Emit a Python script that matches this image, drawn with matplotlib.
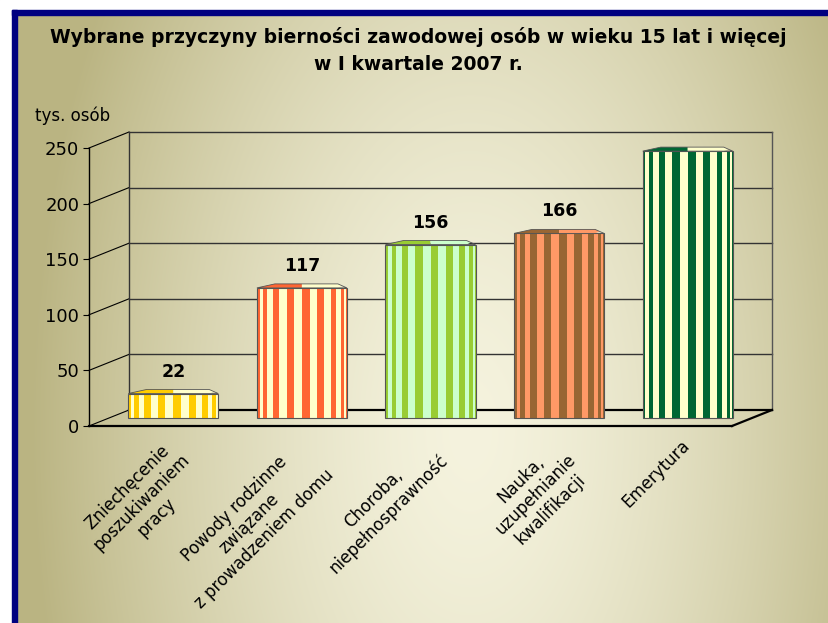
import numpy as np
import matplotlib.pyplot as plt
from matplotlib.patches import Rectangle, Polygon

# data
categories = ["Zniechęcenie\nposzukiwaniem\npracy",
              "Powody rodzinne\nzwiązane\nz prowadzeniem domu",
              "Choroba,\nniepełnosprawność",
              "Nauka,\nuzupełnianie\nkwalifikacji",
              "Emerytura"]
values = [22, 117, 156, 166, 240]
yticks = [0, 50, 100, 150, 200, 250]
dark_colors = ['#FFCC00', '#FF6633', '#99CC33', '#996633', '#006633']
light_colors = ['#FFFFCC', '#FFFFCC', '#CCFFCC', '#FF9966', '#FFFFCC']

plt.rcParams['font.family'] = ['DejaVu Sans']

W, H = 829, 623
fig = plt.figure(figsize=(W / 100, H / 100), dpi=100)

# background gradient + frame
bg = fig.add_axes([0, 0, 1, 1])
bg.set_xlim(0, W)
bg.set_ylim(H, 0)
bg.axis('off')
yy, xx = np.mgrid[0:H, 0:W]
d = np.clip(np.sqrt(((xx - 470) / 440) ** 2 + ((yy - 430) / 800) ** 2), 0, 1)
c_in = np.array([245, 243, 222]) / 255
c_out = np.array([186, 180, 130]) / 255
img = c_in + (c_out - c_in) * d[..., None] ** 1.5
bg.imshow(img, extent=[0, W, H, 0], aspect='auto', zorder=0)
bg.add_patch(Rectangle((0, 0), 12, H, color='white', zorder=1))
bg.add_patch(Rectangle((0, 0), W, 10, color='white', zorder=1))
bg.add_patch(Rectangle((12, 10), 5, H, color='#000080', zorder=2))
bg.add_patch(Rectangle((12, 10), W, 5, color='#000080', zorder=2))

# titles
fig.text(418 / W, 1 - 43 / H, "Wybrane przyczyny bierności zawodowej osób w wieku 15 lat i więcej",
         ha='center', va='baseline', fontsize=13.5, fontweight='bold')
fig.text(418 / W, 1 - 70 / H, "w I kwartale 2007 r.",
         ha='center', va='baseline', fontsize=13.5, fontweight='bold')
fig.text(35 / W, 1 - 121 / H, "tys. osób", ha='left', va='baseline', fontsize=12)

# front plane axes
x0p, x1p, y0p, y1p = 89, 732, 426, 148
ax = fig.add_axes([x0p / W, 1 - y0p / H, (x1p - x0p) / W, (y0p - y1p) / H])
n = len(values)
ax.set_xlim(-0.5, n - 0.5)
ax.set_ylim(0, 250)
ax.patch.set_visible(False)
for s in ['top', 'right']:
    ax.spines[s].set_visible(False)
ax.spines['left'].set_linewidth(1)
ax.spines['bottom'].set_linewidth(1.6)
ax.set_xticks([])
ax.set_yticks(yticks)
ax.tick_params(axis='y', direction='out', length=4, labelsize=13, pad=3)

px_x = (x1p - x0p) / n
px_y = (y0p - y1p) / 250
DX, DY = 40 / px_x, 16 / px_y
xl, xr = -0.5, n - 0.5

# walls and floor
for v in yticks:
    ax.plot([xl, xl + DX], [v, v + DY], color='black', lw=0.8, clip_on=False)
    if v > 0:
        ax.plot([xl + DX, xr + DX], [v + DY, v + DY], color='#333333', lw=1, clip_on=False)
ax.plot([xl + DX] * 2, [DY, 250 + DY], color='#333333', lw=1, clip_on=False)
ax.plot([xr + DX] * 2, [DY, 250 + DY], color='#555555', lw=1, clip_on=False)
ax.plot([xl + DX, xr + DX], [DY, DY], color='black', lw=1.6, clip_on=False)
ax.plot([xr, xr + DX], [0, DY], color='black', lw=1.6, clip_on=False)

# striped bars
bw = 0.7
edges = (1 - np.cos(np.linspace(0, np.pi, 19))) / 2
t = 4 / px_y
for i, (v, dc, lc) in enumerate(zip(values, dark_colors, light_colors)):
    x0 = i - bw / 2 + DX / 2
    yb = DY / 2
    for k in range(len(edges) - 1):
        col = dc if k % 2 else lc
        ax.add_patch(Rectangle((x0 + edges[k] * bw, yb), (edges[k + 1] - edges[k]) * bw, v,
                               facecolor=col, edgecolor='none', zorder=3, clip_on=False))
    ax.add_patch(Rectangle((x0, yb), bw, v, fill=False, edgecolor='#555555', lw=0.8,
                           zorder=4, clip_on=False))
    top = yb + v
    xm = x0 + bw / 2
    ax.add_patch(Polygon([(x0, top), (x0 + 0.2 * bw, top + t), (xm, top + t), (xm, top)],
                         facecolor=dc, edgecolor='none', zorder=4, clip_on=False))
    ax.add_patch(Polygon([(xm, top), (xm, top + t), (x0 + 0.9 * bw, top + t),
                          (x0 + 0.95 * bw, top + t / 2), (x0 + 0.9 * bw, top)],
                         facecolor=lc, edgecolor='none', zorder=4, clip_on=False))
    ax.add_patch(Polygon([(x0, top), (x0 + 0.2 * bw, top + t), (x0 + 0.9 * bw, top + t),
                          (x0 + 0.95 * bw, top + t / 2), (x0 + bw, top)],
                         fill=False, edgecolor='#555555', lw=0.6, zorder=5, clip_on=False))
    ax.annotate(str(v), (i + DX / 2, top + t), xytext=(0, 9), textcoords='offset pixels',
                ha='center', va='bottom', fontsize=12.5, fontweight='bold', zorder=6)
    ax.annotate(categories[i], (i + DX / 2, 0), xytext=(-7, -10), textcoords='offset pixels',
                ha='right', va='top', rotation=45, rotation_mode='anchor',
                multialignment='center', fontsize=12, annotation_clip=False)

fig.savefig('out.png', dpi=100)
